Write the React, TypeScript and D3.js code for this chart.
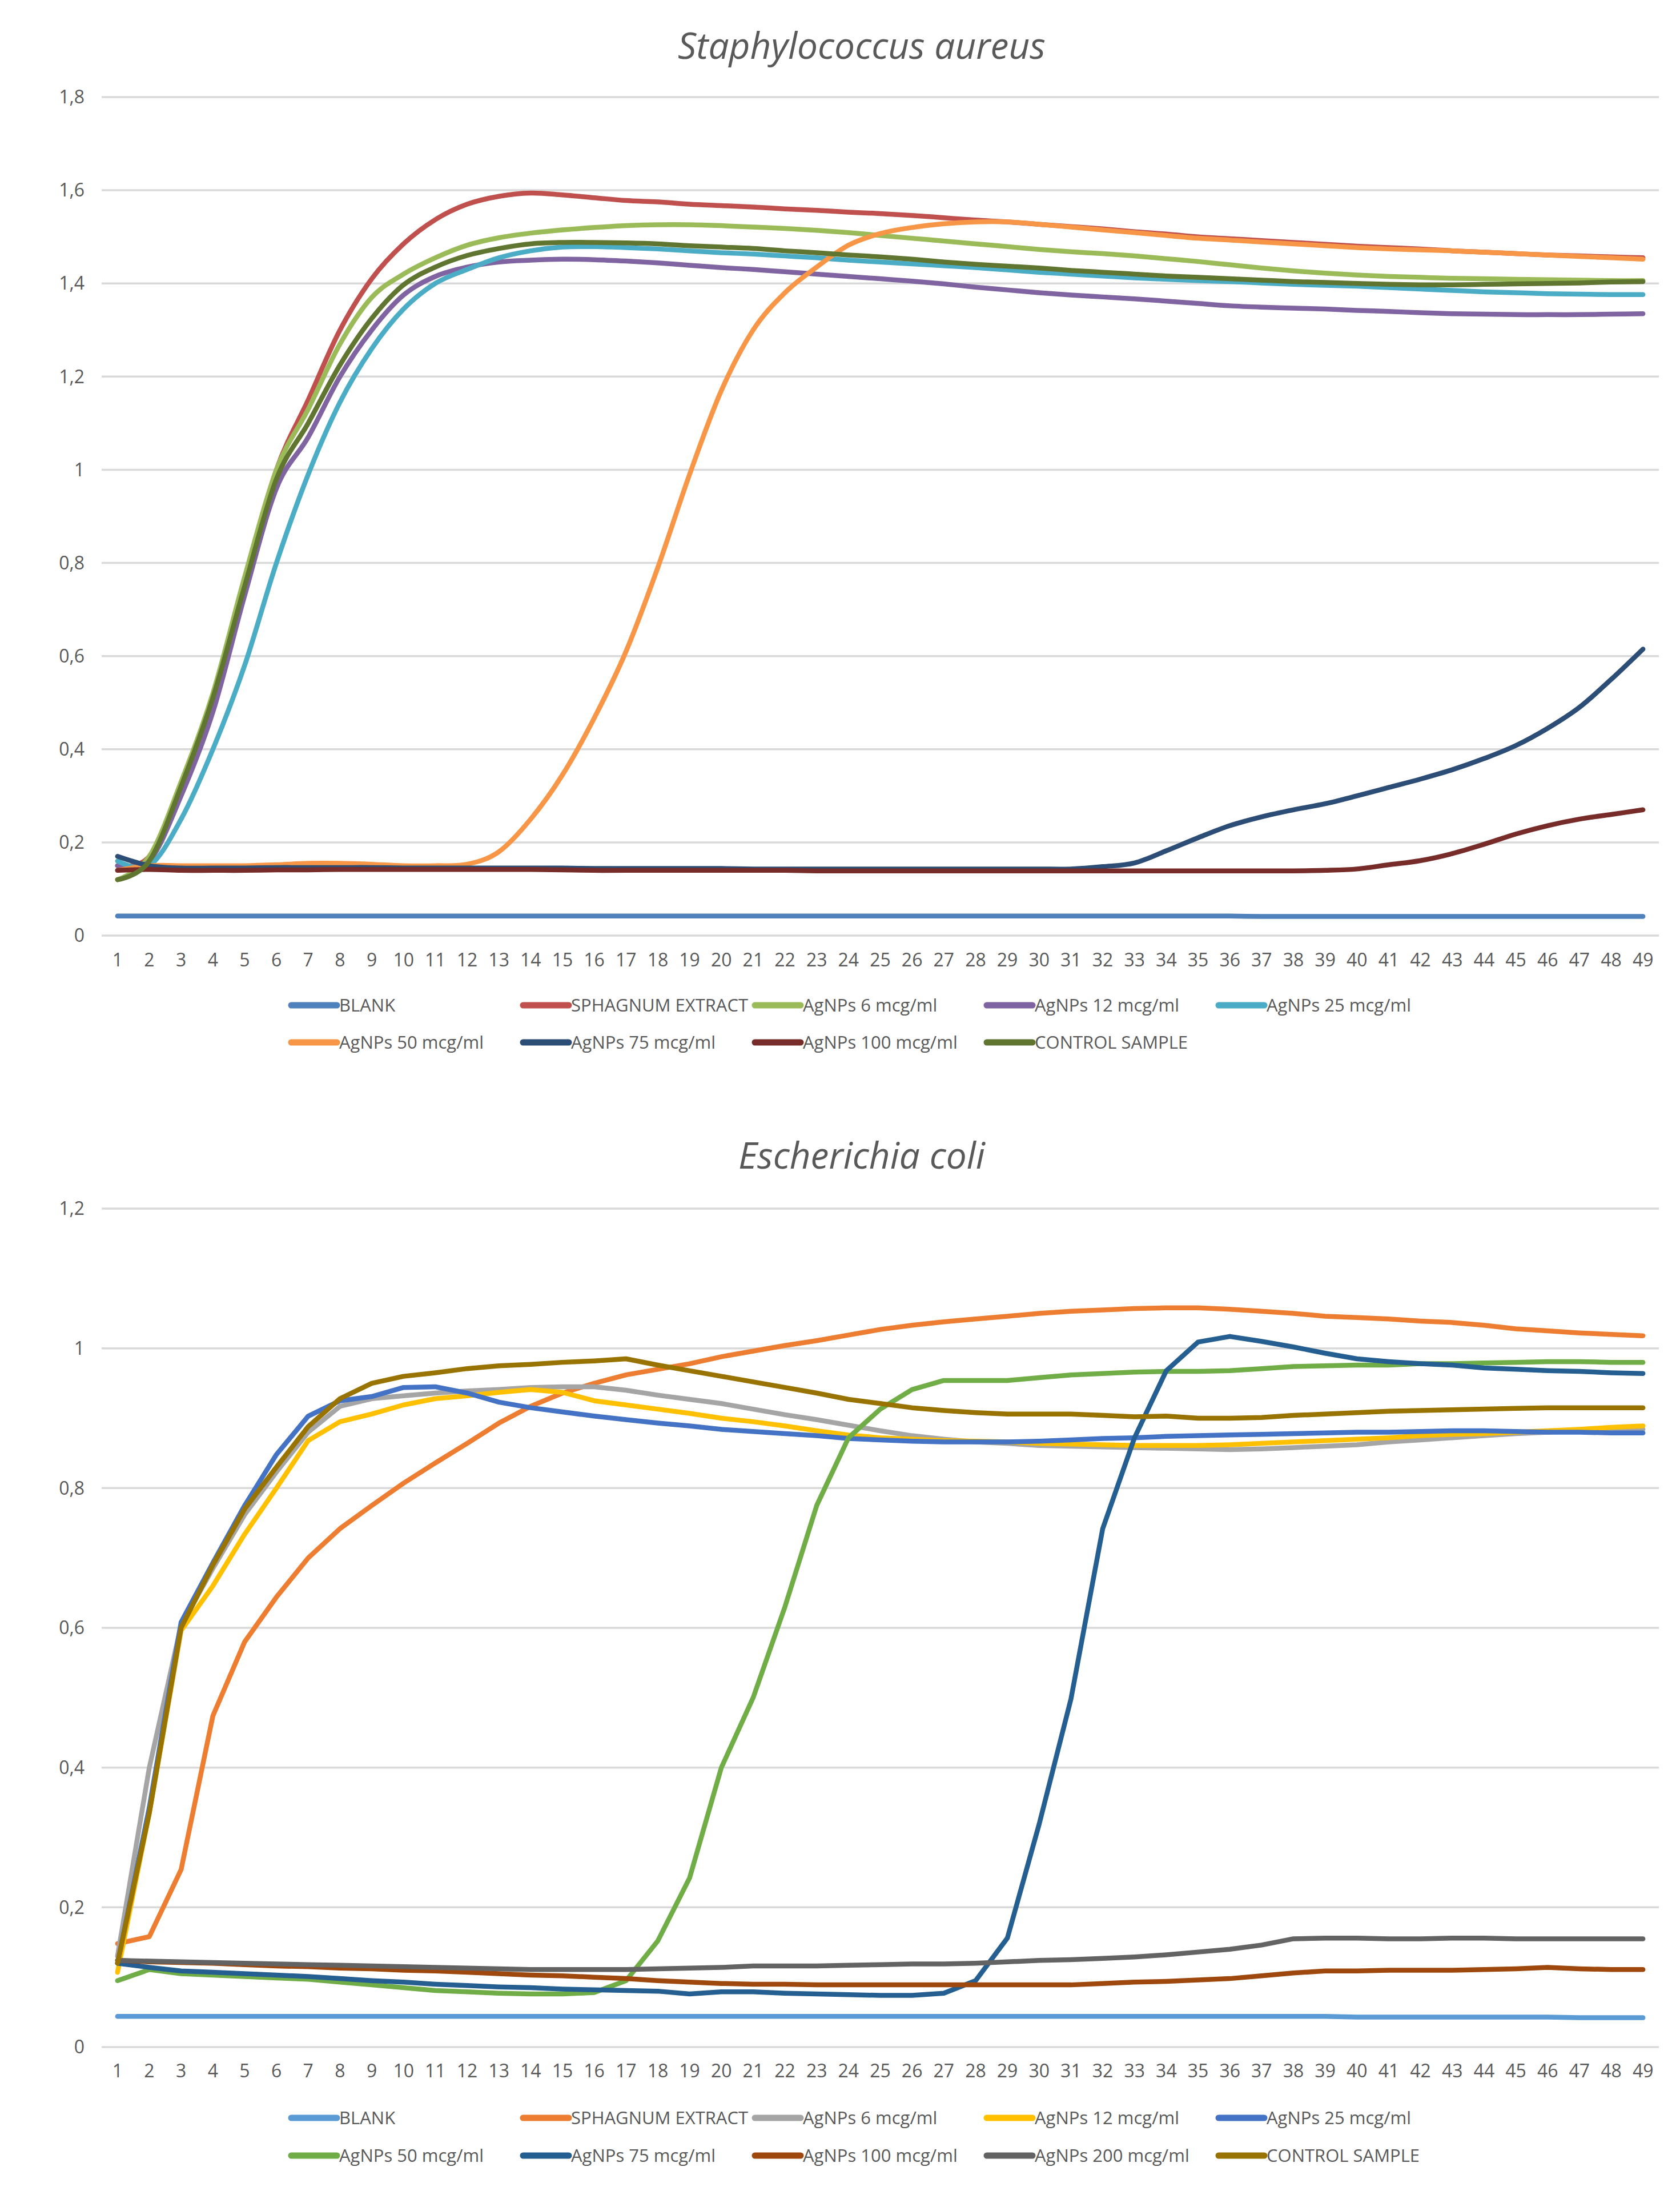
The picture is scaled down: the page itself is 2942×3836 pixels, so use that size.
import React from "react";
import * as d3 from "d3";

// ---------- Shared ----------
const timePoints = d3.range(1, 50).map(String);

// ---------- Staphylococcus aureus ----------
const saTitle = "Staphylococcus aureus";
const saYTicks = [0, 0.2, 0.4, 0.6, 0.8, 1, 1.2, 1.4, 1.6, 1.8];
const saNames = [
  "BLANK",
  "SPHAGNUM EXTRACT",
  "AgNPs 6 mcg/ml",
  "AgNPs 12 mcg/ml",
  "AgNPs 25 mcg/ml",
  "AgNPs 50 mcg/ml",
  "AgNPs 75 mcg/ml",
  "AgNPs 100 mcg/ml",
  "CONTROL SAMPLE",
];
const saColors = ["#4F81BD", "#C0504D", "#9BBB59", "#8064A2", "#4BACC6", "#F79646", "#2C4D75", "#772C2A", "#5F7530"];

const saBlank = [
  0.042, 0.042, 0.042, 0.042, 0.042, 0.042, 0.042, 0.042, 0.042, 0.042,
  0.042, 0.042, 0.042, 0.042, 0.042, 0.042, 0.042, 0.042, 0.042, 0.042,
  0.042, 0.042, 0.042, 0.042, 0.042, 0.042, 0.042, 0.042, 0.042, 0.042,
  0.042, 0.042, 0.042, 0.042, 0.042, 0.042, 0.041, 0.041, 0.041, 0.041,
  0.041, 0.041, 0.041, 0.041, 0.041, 0.041, 0.041, 0.041, 0.041,
];
const saSphagnum = [
  0.15, 0.17, 0.32, 0.51, 0.76, 1.0, 1.15, 1.3, 1.41, 1.485,
  1.537, 1.57, 1.587, 1.594, 1.59, 1.584, 1.578, 1.575, 1.57, 1.567,
  1.564, 1.56, 1.557, 1.553, 1.55, 1.546, 1.541, 1.536, 1.532, 1.527,
  1.522, 1.517, 1.511, 1.506, 1.5, 1.496, 1.492, 1.488, 1.484, 1.48,
  1.477, 1.474, 1.47, 1.467, 1.464, 1.461, 1.459, 1.457, 1.455,
];
const saAg6 = [
  0.12, 0.17, 0.33, 0.52, 0.77, 1.0, 1.13, 1.27, 1.37, 1.42,
  1.455, 1.482, 1.498, 1.508, 1.515, 1.52, 1.524, 1.526, 1.526, 1.524,
  1.521, 1.518, 1.514, 1.509, 1.503, 1.497, 1.491, 1.485, 1.479, 1.473,
  1.468, 1.464, 1.459, 1.453, 1.447, 1.44, 1.433, 1.427, 1.422, 1.418,
  1.415, 1.413, 1.411, 1.41, 1.409, 1.408, 1.407, 1.406, 1.406,
];
const saAg12 = [
  0.15, 0.16, 0.3, 0.48, 0.73, 0.96, 1.07, 1.2, 1.3, 1.375,
  1.415, 1.435, 1.446, 1.45, 1.452, 1.451, 1.448, 1.444, 1.439, 1.434,
  1.43, 1.425, 1.42, 1.415, 1.41, 1.405, 1.399, 1.392, 1.386, 1.38,
  1.375, 1.371, 1.367, 1.362, 1.357, 1.352, 1.349, 1.347, 1.345, 1.342,
  1.34, 1.337, 1.335, 1.334, 1.333, 1.333, 1.333, 1.334, 1.335,
];
const saAg25 = [
  0.16, 0.15, 0.25, 0.4, 0.58, 0.8, 0.99, 1.145, 1.26, 1.345,
  1.4, 1.43, 1.455, 1.47, 1.478, 1.479, 1.477, 1.474, 1.47, 1.466,
  1.463, 1.459, 1.455, 1.45, 1.446, 1.442, 1.438, 1.434, 1.429, 1.424,
  1.42, 1.416, 1.412, 1.409, 1.406, 1.404, 1.401, 1.398, 1.396, 1.394,
  1.391, 1.388, 1.385, 1.382, 1.38, 1.378, 1.377, 1.376, 1.376,
];
const saAg50 = [
  0.14, 0.15, 0.15, 0.15, 0.15, 0.152, 0.155, 0.155, 0.153, 0.15,
  0.15, 0.153, 0.18, 0.25, 0.345, 0.467, 0.61, 0.79, 0.99, 1.17,
  1.3, 1.38, 1.435, 1.482, 1.507, 1.52, 1.528, 1.532, 1.532, 1.527,
  1.521, 1.515, 1.509, 1.503, 1.497, 1.493, 1.489, 1.485, 1.481, 1.477,
  1.474, 1.472, 1.47, 1.467, 1.464, 1.461, 1.458, 1.455, 1.452,
];
const saAg75 = [
  0.17, 0.15, 0.145, 0.145, 0.145, 0.146, 0.146, 0.146, 0.146, 0.145,
  0.145, 0.145, 0.145, 0.145, 0.145, 0.144, 0.144, 0.144, 0.144, 0.144,
  0.143, 0.143, 0.143, 0.143, 0.143, 0.143, 0.143, 0.143, 0.143, 0.143,
  0.143, 0.148, 0.156, 0.182, 0.21, 0.236, 0.255, 0.27, 0.283, 0.3,
  0.318, 0.336, 0.356, 0.38, 0.408, 0.445, 0.49, 0.55, 0.615,
];
const saAg100 = [
  0.14, 0.142, 0.14, 0.14, 0.14, 0.141, 0.141, 0.142, 0.142, 0.142,
  0.142, 0.142, 0.142, 0.142, 0.141, 0.14, 0.14, 0.14, 0.14, 0.14,
  0.14, 0.14, 0.139, 0.139, 0.139, 0.139, 0.139, 0.139, 0.139, 0.139,
  0.139, 0.139, 0.139, 0.139, 0.139, 0.139, 0.139, 0.139, 0.14, 0.143,
  0.152, 0.161, 0.176, 0.196, 0.218, 0.236, 0.25, 0.26, 0.27,
];
const saControl = [
  0.12, 0.16, 0.32, 0.51, 0.75, 0.98, 1.1, 1.225, 1.325, 1.397,
  1.435, 1.46, 1.475, 1.485, 1.488, 1.488, 1.487, 1.485, 1.481, 1.478,
  1.475, 1.47, 1.466, 1.461, 1.457, 1.452, 1.446, 1.441, 1.437, 1.433,
  1.428, 1.424, 1.42, 1.416, 1.413, 1.41, 1.407, 1.404, 1.402, 1.4,
  1.398, 1.397, 1.397, 1.398, 1.399, 1.4, 1.401, 1.403, 1.404,
];
const saValues = [saBlank, saSphagnum, saAg6, saAg12, saAg25, saAg50, saAg75, saAg100, saControl];

// ---------- Escherichia coli ----------
const ecTitle = "Escherichia coli";
const ecYTicks = [0, 0.2, 0.4, 0.6, 0.8, 1, 1.2];
const ecNames = [
  "BLANK",
  "SPHAGNUM EXTRACT",
  "AgNPs 6 mcg/ml",
  "AgNPs 12 mcg/ml",
  "AgNPs 25 mcg/ml",
  "AgNPs 50 mcg/ml",
  "AgNPs 75 mcg/ml",
  "AgNPs 100 mcg/ml",
  "AgNPs 200 mcg/ml",
  "CONTROL SAMPLE",
];
const ecColors = ["#5B9BD5", "#ED7D31", "#A5A5A5", "#FFC000", "#4472C4", "#70AD47", "#255E91", "#9E480E", "#636363", "#997300"];

const ecBlank = [
  0.044, 0.044, 0.044, 0.044, 0.044, 0.044, 0.044, 0.044, 0.044, 0.044,
  0.044, 0.044, 0.044, 0.044, 0.044, 0.044, 0.044, 0.044, 0.044, 0.044,
  0.044, 0.044, 0.044, 0.044, 0.044, 0.044, 0.044, 0.044, 0.044, 0.044,
  0.044, 0.044, 0.044, 0.044, 0.044, 0.044, 0.044, 0.044, 0.044, 0.043,
  0.043, 0.043, 0.043, 0.043, 0.043, 0.043, 0.042, 0.042, 0.042,
];
const ecSphagnum = [
  0.148, 0.158, 0.254, 0.474, 0.58, 0.644, 0.7, 0.742, 0.775, 0.807,
  0.836, 0.864, 0.893, 0.917, 0.936, 0.95, 0.962, 0.97, 0.978, 0.988,
  0.996, 1.004, 1.011, 1.019, 1.027, 1.033, 1.038, 1.042, 1.046, 1.05,
  1.053, 1.055, 1.057, 1.058, 1.058, 1.056, 1.053, 1.05, 1.046, 1.044,
  1.042, 1.039, 1.037, 1.033, 1.028, 1.025, 1.022, 1.02, 1.018,
];
const ecAg6 = [
  0.13, 0.4, 0.604, 0.685, 0.762, 0.823, 0.88, 0.917, 0.928, 0.932,
  0.936, 0.939, 0.941, 0.944, 0.945, 0.945, 0.94, 0.933, 0.927, 0.921,
  0.913, 0.905, 0.898, 0.89, 0.882, 0.875, 0.87, 0.866, 0.864, 0.861,
  0.86, 0.859, 0.858, 0.857, 0.856, 0.855, 0.856, 0.858, 0.86, 0.862,
  0.866, 0.869, 0.872, 0.875, 0.878, 0.88, 0.882, 0.883, 0.884,
];
const ecAg12 = [
  0.107, 0.335, 0.596, 0.66, 0.734, 0.8, 0.868, 0.895, 0.906, 0.919,
  0.928, 0.932, 0.937, 0.941, 0.937, 0.925, 0.919, 0.913, 0.907, 0.9,
  0.895, 0.889, 0.882, 0.876, 0.872, 0.87, 0.868, 0.867, 0.866, 0.864,
  0.863, 0.862, 0.861, 0.861, 0.861, 0.862, 0.864, 0.866, 0.868, 0.87,
  0.872, 0.875, 0.877, 0.878, 0.88, 0.882, 0.884, 0.887, 0.889,
];
const ecAg25 = [
  0.12, 0.343, 0.608, 0.693, 0.775, 0.848, 0.903, 0.925, 0.931, 0.944,
  0.945, 0.936, 0.923, 0.915, 0.909, 0.903, 0.898, 0.893, 0.889, 0.884,
  0.881, 0.878, 0.875, 0.871, 0.869, 0.867, 0.866, 0.866, 0.866, 0.867,
  0.869, 0.871, 0.872, 0.874, 0.875, 0.876, 0.877, 0.878, 0.879, 0.88,
  0.88, 0.881, 0.882, 0.882, 0.881, 0.88, 0.88, 0.879, 0.879,
];
const ecAg50 = [
  0.095, 0.111, 0.105, 0.103, 0.101, 0.099, 0.097, 0.093, 0.089, 0.085,
  0.081, 0.079, 0.077, 0.076, 0.076, 0.078, 0.095, 0.152, 0.242, 0.4,
  0.5, 0.63, 0.775, 0.872, 0.913, 0.941, 0.954, 0.954, 0.954, 0.958,
  0.962, 0.964, 0.966, 0.967, 0.967, 0.968, 0.971, 0.974, 0.975, 0.976,
  0.976, 0.978, 0.978, 0.979, 0.98, 0.981, 0.981, 0.98, 0.98,
];
const ecAg75 = [
  0.12, 0.114, 0.109, 0.107, 0.105, 0.103, 0.101, 0.098, 0.095, 0.093,
  0.09, 0.088, 0.086, 0.085, 0.083, 0.082, 0.081, 0.08, 0.076, 0.079,
  0.079, 0.077, 0.076, 0.075, 0.074, 0.074, 0.077, 0.095, 0.156, 0.319,
  0.498, 0.742, 0.872, 0.968, 1.009, 1.017, 1.01, 1.002, 0.993, 0.985,
  0.981, 0.978, 0.976, 0.972, 0.97, 0.968, 0.967, 0.965, 0.964,
];
const ecAg100 = [
  0.124, 0.122, 0.121, 0.12, 0.118, 0.116, 0.115, 0.113, 0.112, 0.11,
  0.109, 0.107, 0.105, 0.103, 0.102, 0.1, 0.098, 0.095, 0.093, 0.091,
  0.09, 0.09, 0.089, 0.089, 0.089, 0.089, 0.089, 0.089, 0.089, 0.089,
  0.089, 0.091, 0.093, 0.094, 0.096, 0.098, 0.102, 0.106, 0.109, 0.109,
  0.11, 0.11, 0.11, 0.111, 0.112, 0.114, 0.112, 0.111, 0.111,
];
const ecAg200 = [
  0.124, 0.123, 0.122, 0.121, 0.12, 0.119, 0.118, 0.117, 0.116, 0.115,
  0.114, 0.113, 0.112, 0.111, 0.111, 0.111, 0.111, 0.112, 0.113, 0.114,
  0.116, 0.116, 0.116, 0.117, 0.118, 0.119, 0.119, 0.12, 0.122, 0.124,
  0.125, 0.127, 0.129, 0.132, 0.136, 0.14, 0.146, 0.155, 0.156, 0.156,
  0.155, 0.155, 0.156, 0.156, 0.155, 0.155, 0.155, 0.155, 0.155,
];
const ecControl = [
  0.12, 0.335, 0.6, 0.69, 0.77, 0.83, 0.888, 0.928, 0.95, 0.96,
  0.965, 0.971, 0.975, 0.977, 0.98, 0.982, 0.985, 0.976, 0.968, 0.96,
  0.952, 0.944, 0.936, 0.927, 0.921, 0.915, 0.911, 0.908, 0.906, 0.906,
  0.906, 0.904, 0.902, 0.903, 0.9, 0.9, 0.901, 0.904, 0.906, 0.908,
  0.91, 0.911, 0.912, 0.913, 0.914, 0.915, 0.915, 0.915, 0.915,
];
const ecValues = [ecBlank, ecSphagnum, ecAg6, ecAg12, ecAg25, ecAg50, ecAg75, ecAg100, ecAg200, ecControl];

// ---------- Rendering ----------
const FONT = "'Open Sans', 'DejaVu Sans', sans-serif";
const TEXT = "#595959";

type ChartProps = {
  title: string;
  titleY: number;
  yTicks: number[];
  yMax: number;
  plotTop: number;
  plotBottom: number;
  xLabelY: number;
  names: string[];
  colors: string[];
  values: number[][];
  legendY: number[];
  smooth: boolean;
};

function Chart(p: ChartProps) {
  const x = d3.scalePoint<string>().domain(timePoints).range([178, 2905]).padding(0.5);
  const y = d3.scaleLinear().domain([0, p.yMax]).range([p.plotBottom, p.plotTop]);
  const line = d3
    .line<number>()
    .x((_, i) => x(timePoints[i]) as number)
    .y((v) => y(v))
    .curve(p.smooth ? d3.curveCardinal.tension(0) : d3.curveLinear);
  const fmt = (v: number) => String(+v.toFixed(1)).replace(".", ",");
  const legendX0 = 510;
  const legendStep = 406;
  return (
    <g>
      <text
        x={1509}
        y={p.titleY}
        textAnchor="middle"
        fontFamily={FONT}
        fontStyle="italic"
        fontSize={64}
        fill={TEXT}
      >
        {p.title}
      </text>
      {p.yTicks.map((t) => (
        <g key={t}>
          <line x1={178} x2={2905} y1={y(t)} y2={y(t)} stroke="#D9D9D9" strokeWidth={3.5} />
          <text
            x={148}
            y={y(t)}
            dy="0.35em"
            textAnchor="end"
            fontFamily={FONT}
            fontSize={32}
            fill={TEXT}
          >
            {fmt(t)}
          </text>
        </g>
      ))}
      {timePoints.map((t) => (
        <text
          key={t}
          x={x(t)}
          y={p.xLabelY}
          dy="0.35em"
          textAnchor="middle"
          fontFamily={FONT}
          fontSize={32}
          fill={TEXT}
        >
          {t}
        </text>
      ))}
      {p.values.map((vals, i) => (
        <path
          key={p.names[i]}
          d={line(vals) || ""}
          fill="none"
          stroke={p.colors[i]}
          strokeWidth={8.5}
          strokeLinejoin="round"
          strokeLinecap="round"
        />
      ))}
      {p.names.map((n, i) => {
        const row = i < 5 ? 0 : 1;
        const col = i < 5 ? i : i - 5;
        const lx = legendX0 + col * legendStep;
        const ly = p.legendY[row];
        return (
          <g key={n}>
            <line x1={lx} x2={lx + 80} y1={ly} y2={ly} stroke={p.colors[i]} strokeWidth={11} strokeLinecap="round" />
            <text x={lx + 84} y={ly} dy="0.35em" fontFamily={FONT} fontSize={31} fill={TEXT}>
              {n}
            </text>
          </g>
        );
      })}
    </g>
  );
}

export default function App() {
  return (
    <svg
      width={2942}
      height={3836}
      viewBox="0 0 2942 3836"
      style={{ position: "absolute", left: 0, top: 0, background: "#fff" }}
    >
      <rect x={0} y={0} width={2942} height={3836} fill="#fff" />
      <Chart
        title={saTitle}
        titleY={103}
        yTicks={saYTicks}
        yMax={1.8}
        plotTop={170}
        plotBottom={1638}
        xLabelY={1681}
        names={saNames}
        colors={saColors}
        values={saValues}
        legendY={[1760, 1825]}
        smooth={true}
      />
      <Chart
        title={ecTitle}
        titleY={2046}
        yTicks={ecYTicks}
        yMax={1.2}
        plotTop={2116}
        plotBottom={3584}
        xLabelY={3626}
        names={ecNames}
        colors={ecColors}
        values={ecValues}
        legendY={[3708, 3774]}
        smooth={false}
      />
    </svg>
  );
}
